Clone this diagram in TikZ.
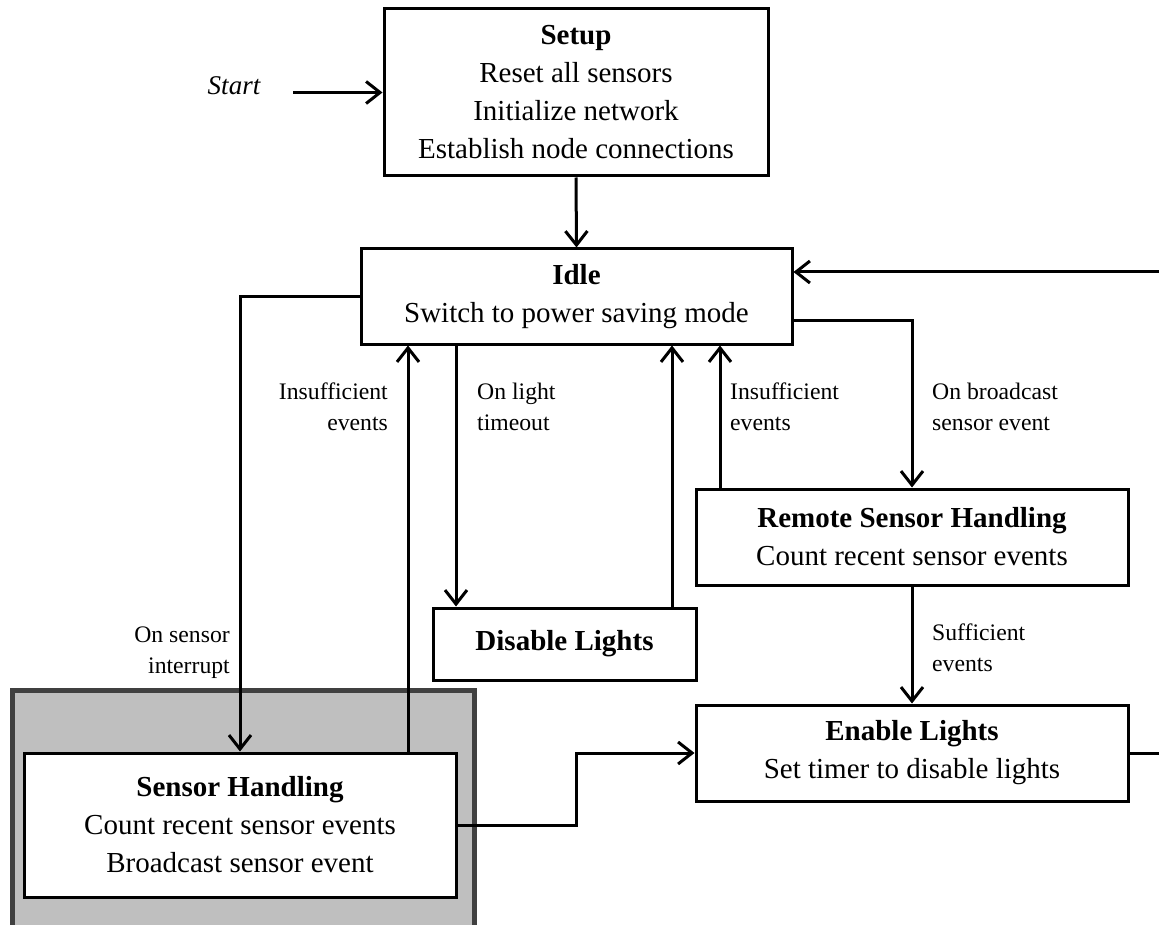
\documentclass[tikz,border=0pt]{standalone}
\usepackage{fontspec}
\setmainfont{Liberation Serif}
\usetikzlibrary{arrows.meta}
\begin{document}
\begin{tikzpicture}[x=1pt,y=-1pt,
  state/.style={draw, line width=3pt, fill=white, align=center, inner sep=0pt,
    font=\fontsize{29}{38}\selectfont},
  lbl/.style={inner sep=0pt, font=\fontsize{23.7}{31}\selectfont},
  flow/.style={line width=3pt, -{Straight Barb[length=14pt,width=22pt]}},
  link/.style={line width=3pt}]
\useasboundingbox (0,0) rectangle (1159,925);

% shaded region behind the local sensor state
\begin{scope}
  \clip (0,0) rectangle (1159,925);
  \draw[line width=5pt, draw=black!75, fill=black!25] (12.5,690.5) rectangle (474.5,960);
\end{scope}

% states
\node[state, minimum width=384pt, minimum height=167pt] (setup) at (576,92.5)
  {\textbf{Setup}\\Reset all sensors\\Initialize network\\Establish node connections};
\node[state, minimum width=431pt, minimum height=95pt] (idle) at (576.5,296.5)
  {\textbf{Idle}\\Switch to power saving mode};
\node[state, minimum width=432pt, minimum height=96pt] (remote) at (912,537)
  {\textbf{Remote Sensor Handling}\\Count recent sensor events};
\node[state, minimum width=263pt, minimum height=72pt] (disable) at (564.5,644)
  {\textbf{Disable Lights}};
\node[state, minimum width=432pt, minimum height=96pt] (enable) at (912,753)
  {\textbf{Enable Lights}\\Set timer to disable lights};
\node[state, minimum width=432pt, minimum height=144pt] (sensor) at (240,825)
  {\textbf{Sensor Handling}\\Count recent sensor events\\Broadcast sensor event};

% entry point
\node[inner sep=0pt, font=\fontsize{27}{32}\selectfont\itshape] (start) at (234,86) {Start};
\coordinate (startpt) at (293,92.5);
\draw[flow] (startpt) -- (setup.west);

% helper positions for vertical connectors
\coordinate (xa) at (408,0);
\coordinate (xb) at (456,0);
\coordinate (xc) at (672,0);
\coordinate (xd) at (720,0);
\coordinate (xm) at (576,0);
\coordinate (yb) at (0,320);
\coordinate (rt1) at (1159,272);
\coordinate (rt2) at (1159,753);

% transitions
\draw[flow] (setup.south) -- (idle.north);
\draw[flow] (idle.west) -| (sensor.north);
\draw[flow] (sensor.north -| xa) -- (idle.south -| xa);
\draw[flow] (idle.south -| xb) -- (disable.north -| xb);
\draw[flow] (disable.north -| xc) -- (idle.south -| xc);
\draw[flow] (remote.north -| xd) -- (idle.south -| xd);
\draw[flow] (idle.east |- yb) -| (remote.north);
\draw[flow] (remote.south) -- (enable.north);
\draw[flow] (sensor.east) -- (sensor.east -| xm) |- (enable.west);
\draw[link] (enable.east) -- (rt2);
\draw[flow] (rt1) -- (idle.east |- rt1);

% transition labels
\node[lbl, anchor=east, align=right] (l1) at (388,407) {Insufficient\\events};
\node[lbl, anchor=west, align=left] (l2) at (477,407) {On light\\timeout};
\node[lbl, anchor=east, align=right] (l3) at (230,653) {On sensor\\interrupt};
\node[lbl, anchor=west, align=left] (l4) at (730,407) {Insufficient\\events};
\node[lbl, anchor=west, align=left] (l5) at (932,407) {On broadcast\\sensor event};
\node[lbl, anchor=west, align=left] (l6) at (932,648) {Sufficient\\events};
\end{tikzpicture}
\end{document}
